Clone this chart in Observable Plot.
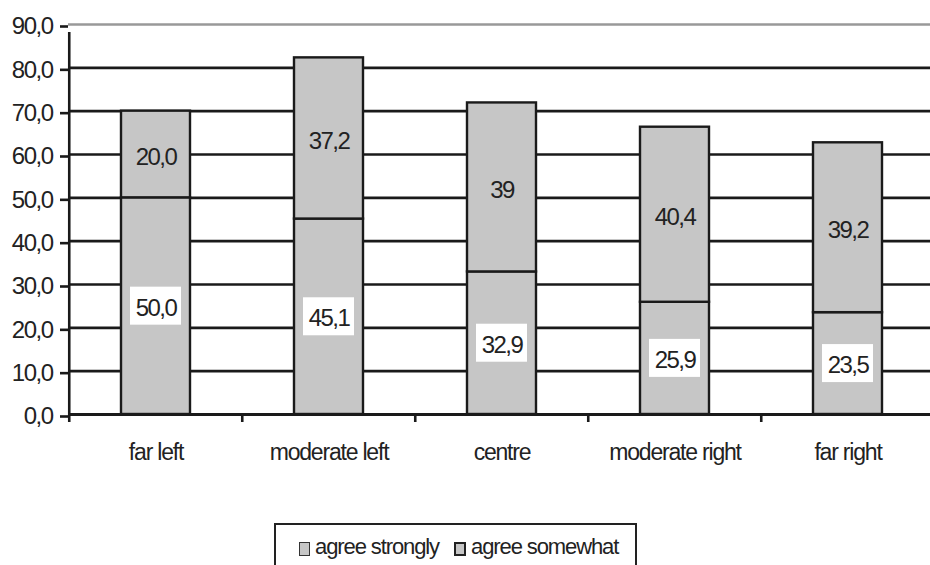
<!DOCTYPE html>
<html><head><meta charset="utf-8">
<script src="https://cdn.jsdelivr.net/npm/d3@7"></script>
<script src="https://cdn.jsdelivr.net/npm/@observablehq/plot@0.6"></script>
<style>
body{margin:0;background:#fff;font-family:"Liberation Sans",Arial,sans-serif;color:#222;}
#wrap{position:relative;width:930px;height:565px;overflow:hidden;background:#fff}
#legend{position:absolute;left:274px;top:523px;width:363px;height:50px;border:2px solid #222;box-sizing:border-box;font-size:22px;letter-spacing:-1.1px;display:flex;align-items:flex-start;padding-top:9px;padding-left:23px;white-space:nowrap}
.sw{display:inline-block;width:9px;height:12px;background:#c6c6c6;border:1px solid #333;margin-right:5px;position:relative;top:2px}
.sw2{border:2px solid #222;width:8px;height:10px}
.item{display:inline-flex;align-items:center;margin-right:15px}
svg text{letter-spacing:-1.5px}
svg g[aria-label="x-axis tick label"] text{letter-spacing:-1.2px}
</style></head>
<body><div id="wrap"><div id="chart"></div>
<div id="legend"></div></div>
<script>
const categories = ["far left","moderate left","centre","moderate right","far right"];
const agreeStrongly = [50.0,45.1,32.9,25.9,23.5];
const agreeSomewhat = [20.0,37.2,39.0,40.4,39.2];
const strongLabels = ["50,0","45,1","32,9","25,9","23,5"];
const somewhatLabels = ["20,0","37,2","39","40,4","39,2"];
const seriesNames = ["agree strongly","agree somewhat"];
const yTicks = [0,10,20,30,40,50,60,70,80,90];

const rows = [];
categories.forEach((c,i)=>{
  rows.push({cat:c, series:seriesNames[0], y1:0, y2:agreeStrongly[i], label:strongLabels[i]});
  rows.push({cat:c, series:seriesNames[1], y1:agreeStrongly[i], y2:agreeStrongly[i]+agreeSomewhat[i], label:somewhatLabels[i]});
});
rows.forEach(r=>r.mid=(r.y1+r.y2)/2);
const strongRows = rows.filter(r=>r.series===seriesNames[0]);
const somewhatRows = rows.filter(r=>r.series===seriesNames[1]);

const x0 = 68, x1 = 935.5;
const bw = (x1-x0)/categories.length;
const ink = "#1a1a1a";

const chart = Plot.plot({
  width:930, height:500,
  marginLeft:68, marginRight:0, marginTop:24, marginBottom:86,
  x:{domain:categories, range:[x0,x1], padding:0, label:null},
  y:{domain:[0,90], range:[414,24], label:null},
  style:{fontFamily:"'Liberation Sans', Arial, sans-serif", fontSize:"24px", color:"#222", background:"white", overflow:"visible"},
  marks:[
    Plot.ruleY(yTicks.filter(d=>d>0 && d<90), {y:d=>d, stroke:ink, strokeWidth:2.6}),
    Plot.ruleY([90], {y:d=>d, stroke:"#999", strokeWidth:2.6}),
    Plot.barY(rows, {x:"cat", y1:"y1", y2:"y2", fill:"#c6c6c6", stroke:ink, strokeWidth:2.4, insetLeft:52, insetRight:52}),
    Plot.ruleY([0], {y:d=>d, stroke:ink, strokeWidth:2.8}),
    Plot.barY(strongRows, {x:"cat", y1:"mid", y2:"mid", insetTop:-19, insetBottom:-19, insetLeft:61, insetRight:61, fill:"white"}),
    Plot.text(strongRows, {x:"cat", y:"mid", text:"label", fill:"#222", fontSize:24, dy:2}),
    Plot.text(somewhatRows, {x:"cat", y:"mid", text:"label", fill:"#222", fontSize:24, dy:3}),
    Plot.axisY({ticks:yTicks, tickSize:8, tickPadding:8, tickFormat:d=>d.toFixed(1).replace(".",","), stroke:ink, strokeWidth:2.6, fontSize:24, fill:"#222", label:null, dy:2}),
    Plot.axisX({tickSize:0, tickPadding:29, fontSize:23, fill:"#222", label:null}),
    Plot.ruleX(categories, {x:d=>d, dx:-bw/2, y1:0, y2:0, insetBottom:-8, stroke:ink, strokeWidth:2.6}),
    Plot.ruleX([categories[0]], {x:d=>d, dx:-bw/2, y1:0, y2:90, insetBottom:-8, stroke:ink, strokeWidth:2.6})
  ]
});
document.getElementById("chart").appendChild(chart);

const leg = document.getElementById("legend");
seriesNames.forEach((n,i)=>{
  const it = document.createElement("span"); it.className="item";
  const sw = document.createElement("span"); sw.className = i===0 ? "sw" : "sw sw2";
  it.appendChild(sw);
  it.appendChild(document.createTextNode(n));
  leg.appendChild(it);
});
</script></body></html>
